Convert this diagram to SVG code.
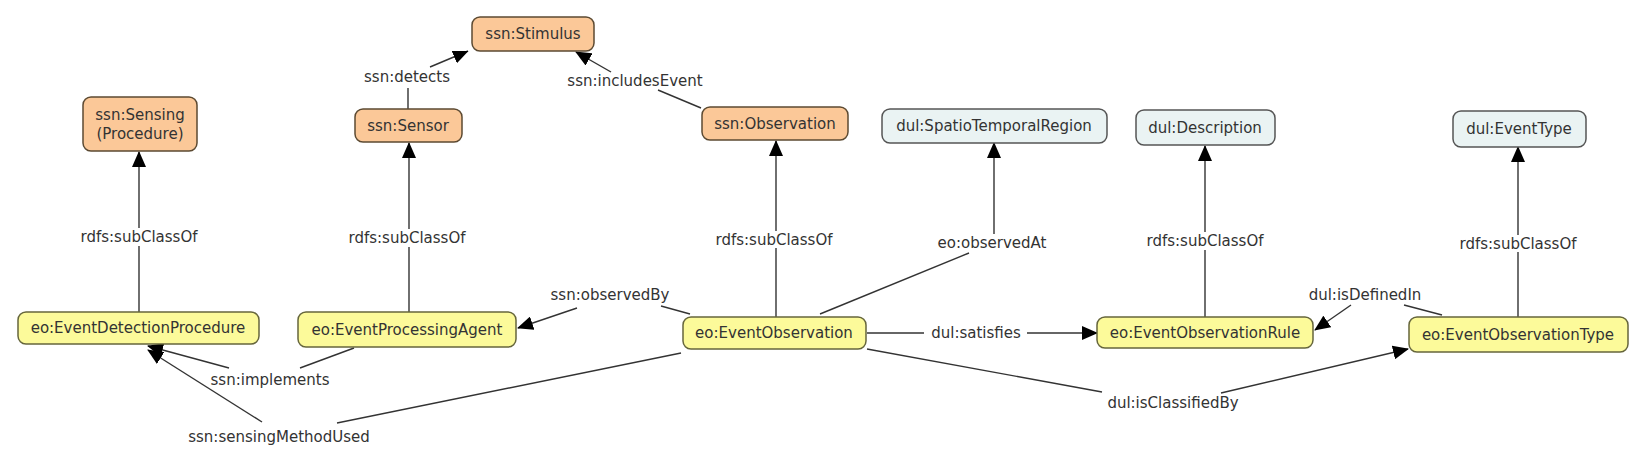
<svg xmlns="http://www.w3.org/2000/svg" width="1647" height="462" viewBox="0 0 1647 462">
<style>
text{font-family:"DejaVu Sans","Liberation Sans",sans-serif;font-size:15px;fill:#333;text-anchor:middle}
.or{fill:#fbc898;stroke:#5c4a32;stroke-width:1.5}
.bl{fill:#eaf3f3;stroke:#555;stroke-width:1.5}
.ye{fill:#fcfa9a;stroke:#66663c;stroke-width:1.5}
.c{stroke:#333;stroke-width:1.4;fill:none}
.a{marker-end:url(#ah)}
</style>
<defs>
<marker id="ah" markerUnits="userSpaceOnUse" markerWidth="16" markerHeight="14" viewBox="0 0 16 14" refX="15" refY="7" orient="auto">
<path d="M0,0 L16,7 L0,14 z" fill="#000"/>
</marker>
</defs>
<rect width="1647" height="462" fill="#fff"/>
<g id="connectors">
<line class="c" x1="139" y1="312" x2="139" y2="246"/><line class="c a" x1="139" y1="228" x2="139" y2="152"/><text x="139" y="242">rdfs:subClassOf</text>
<line class="c" x1="409" y1="312" x2="409" y2="247"/><line class="c a" x1="409" y1="229" x2="409" y2="143"/><text x="407" y="243">rdfs:subClassOf</text>
<line class="c" x1="776" y1="317" x2="776" y2="248"/><line class="c a" x1="776" y1="231" x2="776" y2="141"/><text x="774" y="245">rdfs:subClassOf</text>
<line class="c" x1="820" y1="314" x2="969" y2="253"/><line class="c a" x1="994" y1="234" x2="994" y2="143"/><text x="992" y="248">eo:observedAt</text>
<line class="c" x1="1205" y1="317" x2="1205" y2="250"/><line class="c a" x1="1205" y1="232" x2="1205" y2="146"/><text x="1205" y="246">rdfs:subClassOf</text>
<line class="c" x1="1518" y1="317" x2="1518" y2="252"/><line class="c a" x1="1518" y1="235" x2="1518" y2="147"/><text x="1518" y="249">rdfs:subClassOf</text>
<line class="c" x1="408" y1="109" x2="408" y2="88"/><line class="c a" x1="430" y1="67" x2="468" y2="51"/><text x="407" y="82">ssn:detects</text>
<line class="c" x1="701" y1="108" x2="658" y2="90"/><line class="c a" x1="611" y1="72" x2="576" y2="52"/><text x="635" y="86">ssn:includesEvent</text>
<line class="c" x1="690" y1="314" x2="661" y2="306"/><line class="c a" x1="577" y1="308" x2="518" y2="328"/><text x="610" y="300">ssn:observedBy</text>
<line class="c" x1="354" y1="348" x2="300" y2="368"/><line class="c a" x1="229" y1="368" x2="148" y2="346"/><text x="270" y="385">ssn:implements</text>
<line class="c" x1="681" y1="353" x2="337" y2="423"/><line class="c a" x1="262" y1="422" x2="148" y2="350"/><text x="279" y="442">ssn:sensingMethodUsed</text>
<line class="c" x1="867" y1="333" x2="924" y2="333"/><line class="c a" x1="1027" y1="333" x2="1097" y2="333"/><text x="976" y="338">dul:satisfies</text>
<line class="c" x1="1442" y1="315" x2="1404" y2="305"/><line class="c a" x1="1351" y1="305" x2="1315" y2="330"/><text x="1365" y="300">dul:isDefinedIn</text>
<line class="c" x1="867" y1="349" x2="1102" y2="392"/><line class="c a" x1="1221" y1="393" x2="1408" y2="349"/><text x="1173" y="408">dul:isClassifiedBy</text>
</g>
<g id="stimulus"><rect class="or" x="472" y="17" width="122" height="34" rx="8"/><text x="533" y="39">ssn:Stimulus</text></g>
<g id="sensing"><rect class="or" x="83" y="97" width="114" height="54" rx="8"/><text x="140" y="120">ssn:Sensing</text><text x="140" y="139">(Procedure)</text></g>
<g id="sensor"><rect class="or" x="355" y="109" width="107" height="33" rx="8"/><text x="408" y="131">ssn:Sensor</text></g>
<g id="observation"><rect class="or" x="702" y="107" width="146" height="33" rx="8"/><text x="775" y="129">ssn:Observation</text></g>
<g id="spatio"><rect class="bl" x="882" y="109" width="225" height="34" rx="8"/><text x="994" y="131">dul:SpatioTemporalRegion</text></g>
<g id="description"><rect class="bl" x="1136" y="110" width="139" height="35" rx="8"/><text x="1205" y="133">dul:Description</text></g>
<g id="eventtype"><rect class="bl" x="1453" y="111" width="133" height="36" rx="8"/><text x="1519" y="134">dul:EventType</text></g>
<g id="edp"><rect class="ye" x="18" y="312" width="241" height="32" rx="8"/><text x="138" y="333">eo:EventDetectionProcedure</text></g>
<g id="epa"><rect class="ye" x="298" y="312" width="218" height="35" rx="8"/><text x="407" y="335">eo:EventProcessingAgent</text></g>
<g id="eobs"><rect class="ye" x="683" y="317" width="183" height="32" rx="8"/><text x="774" y="338">eo:EventObservation</text></g>
<g id="eorule"><rect class="ye" x="1097" y="317" width="216" height="31" rx="8"/><text x="1205" y="338">eo:EventObservationRule</text></g>
<g id="eotype"><rect class="ye" x="1409" y="317" width="219" height="35" rx="8"/><text x="1518" y="340">eo:EventObservationType</text></g>
</svg>
